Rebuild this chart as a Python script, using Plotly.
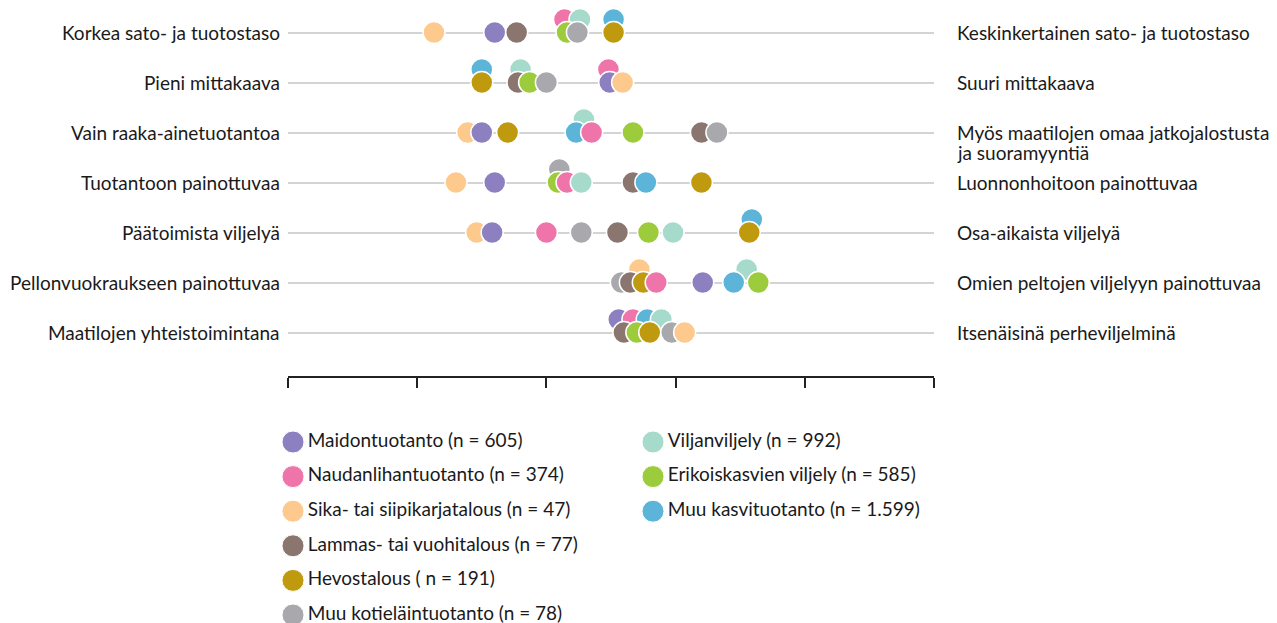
import plotly.graph_objects as go

# ---------------- data ----------------
left_labels = [
    "Korkea sato- ja tuotostaso",
    "Pieni mittakaava",
    "Vain raaka-ainetuotantoa",
    "Tuotantoon painottuvaa",
    "Päätoimista viljelyä",
    "Pellonvuokraukseen painottuvaa",
    "Maatilojen yhteistoimintana",
]
right_labels = [
    "Keskinkertainen sato- ja tuotostaso",
    "Suuri mittakaava",
    "Myös maatilojen omaa jatkojalostusta<br>ja suoramyyntiä",
    "Luonnonhoitoon painottuvaa",
    "Osa-aikaista viljelyä",
    "Omien peltojen viljelyyn painottuvaa",
    "Itsenäisinä perheviljelminä",
]

series_names = [
    "Maidontuotanto (n = 605)",
    "Naudanlihantuotanto (n = 374)",
    "Sika- tai siipikarjatalous (n = 47)",
    "Lammas- tai vuohitalous (n = 77)",
    "Hevostalous ( n = 191)",
    "Muu kotieläintuotanto (n = 78)",
    "Viljanviljely (n = 992)",
    "Erikoiskasvien viljely (n = 585)",
    "Muu kasvituotanto (n = 1.599)",
]

maidontuotanto = [1.60, 2.49, 1.50, 1.60, 1.58, 3.21, 2.56]
naudanliha = [2.14, 2.48, 2.35, 2.16, 2.00, 2.85, 2.67]
sika = [1.13, 2.59, 1.39, 1.30, 1.46, 2.72, 3.07]
lammas = [1.77, 1.78, 3.20, 2.67, 2.55, 2.65, 2.60]
hevos = [2.52, 1.50, 1.70, 3.20, 3.57, 2.75, 2.80]
muu_kotielain = [2.24, 2.00, 3.32, 2.10, 2.27, 2.58, 2.97]
viljan = [2.26, 1.80, 2.29, 2.27, 2.98, 3.55, 2.89]
erikois = [2.16, 1.87, 2.67, 2.09, 2.79, 3.64, 2.70]
muu_kasvi = [2.52, 1.50, 2.23, 2.77, 3.59, 3.45, 2.78]

values = [maidontuotanto, naudanliha, sika, lammas, hevos,
          muu_kotielain, viljan, erikois, muu_kasvi]

axis_ticks = [0, 1, 2, 3, 4, 5]

# ---------------- style ----------------
colors = ["#8C80C0", "#EE74A9", "#FDC98C", "#8A766F", "#BF9A0E",
          "#A8A8AD", "#A6DACB", "#9CCB3C", "#5CB5D9"]

# dots drawn in the raised (stacked) layer, per row: series indices
raised = {0: {1, 6, 8}, 1: {1, 6, 8}, 2: {6}, 3: {5}, 4: {8},
          5: {2, 6}, 6: {0, 1, 6, 8}}

FONT = "Lato, 'Open Sans', sans-serif"
FS = 19
TXT = "#1a1a1a"
OFF = 8                      # page body margin
W, H = 1277 - OFF, 623 - OFF
X0, X1 = 288 - OFF, 934 - OFF        # pixel span of value axis
ROW0, ROWSTEP = 32.5 - OFF, 50       # pixel position of first row, spacing
AXIS_Y = 376 - OFF                   # pixel y of bottom axis line
LIFT = 13 / ROWSTEP
LEFT_X, RIGHT_X = 279 - OFF + 3, 957 - OFF - 2
LINE_GAP = 20

# ---------------- build dots ----------------
pts = []
for si, vals in enumerate(values):
    for ri, v in enumerate(vals):
        up = si in raised.get(ri, set())
        pts.append((0 if up else 1, v, ri - (LIFT if up else 0), colors[si], series_names[si]))
pts.sort(key=lambda p: (p[0], p[1]))

fig = go.Figure()
fig.add_trace(go.Scatter(
    x=[p[1] for p in pts], y=[p[2] for p in pts],
    mode="markers",
    marker=dict(size=22, color=[p[3] for p in pts], line=dict(color="white", width=1.5)),
    text=[p[4] for p in pts], hoverinfo="text+x",
    showlegend=False, cliponaxis=False, xaxis="x", yaxis="y",
))

# ---------------- legend (manual) ----------------
n_first = 6
leg_col = [0 if i < n_first else 1 for i in range(len(series_names))]
leg_row = [i if i < n_first else i - n_first for i in range(len(series_names))]
fig.add_trace(go.Scatter(
    x=leg_col, y=leg_row, mode="markers+text",
    marker=dict(size=22, color=colors, line=dict(color="white", width=1)),
    text=series_names, textposition="middle right",
    textfont=dict(family=FONT, size=FS, color=TXT),
    showlegend=False, hoverinfo="skip", cliponaxis=False,
    xaxis="x2", yaxis="y2",
))

LEG_X0, LEG_COLSTEP = 293 - OFF, 360
LEG_Y0, LEG_ROWSTEP = 442 - OFF, 34.6

# ---------------- labels ----------------
ann = []
for ri, lab in enumerate(left_labels):
    ann.append(dict(x=LEFT_X / W, xref="paper", y=ri, yref="y", text=lab,
                    xanchor="right", yanchor="middle", showarrow=False,
                    font=dict(family=FONT, size=FS, color=TXT)))
for ri, lab in enumerate(right_labels):
    for k, line in enumerate(lab.split("<br>")):
        ann.append(dict(x=RIGHT_X / W, xref="paper", y=ri, yref="y", text=line,
                        xanchor="left", yanchor="middle", align="left",
                        yshift=-LINE_GAP * k, showarrow=False,
                        font=dict(family=FONT, size=FS, color=TXT)))

top_val = -ROW0 / ROWSTEP
bot_val = (AXIS_Y - ROW0) / ROWSTEP

fig.update_layout(
    width=W, height=H, autosize=False,
    margin=dict(l=0, r=0, t=0, b=0),
    paper_bgcolor="white", plot_bgcolor="rgba(0,0,0,0)",
    font=dict(family=FONT, size=FS, color=TXT),
    annotations=ann,
    xaxis=dict(domain=[X0 / W, X1 / W], range=[axis_ticks[0], axis_ticks[-1]],
               tickvals=axis_ticks, showticklabels=False, ticks="outside",
               ticklen=10, tickwidth=2, tickcolor="#222222",
               showline=True, linecolor="#222222", linewidth=2,
               showgrid=False, zeroline=False, anchor="y", fixedrange=True),
    yaxis=dict(domain=[1 - AXIS_Y / H, 1], range=[bot_val, top_val],
               tickvals=list(range(len(left_labels))), showticklabels=False,
               showgrid=True, gridcolor="#d4d4d4", gridwidth=1.5,
               zeroline=False, showline=False, ticks="", anchor="x", fixedrange=True),
    xaxis2=dict(domain=[0, 1], range=[-LEG_X0 / LEG_COLSTEP, (W - LEG_X0) / LEG_COLSTEP],
                visible=False, anchor="y2", fixedrange=True),
    yaxis2=dict(domain=[0, 1], range=[(H - LEG_Y0) / LEG_ROWSTEP, -LEG_Y0 / LEG_ROWSTEP],
                visible=False, anchor="x2", fixedrange=True),
)

fig.write_html("out.html")
